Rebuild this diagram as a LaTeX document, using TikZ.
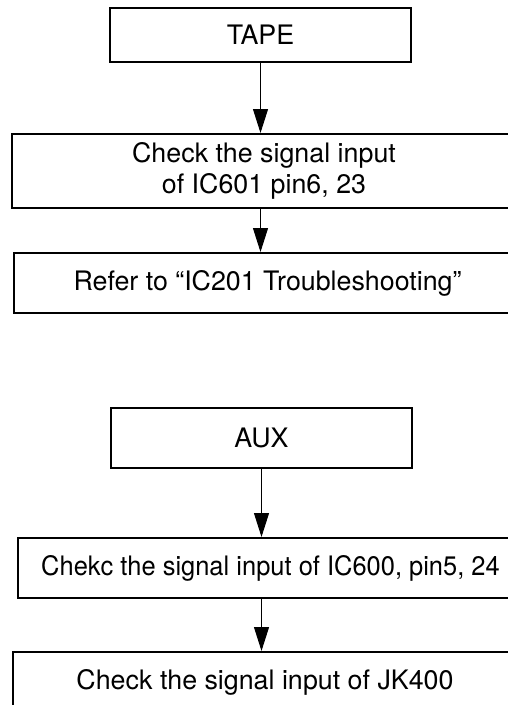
\documentclass[tikz,border=0pt]{standalone}
\usepackage{fontspec}
\setmainfont{TeX Gyre Heros}
\usetikzlibrary{arrows.meta, positioning}
\tikzset{
    flowbox/.style={rectangle, draw=black, line width=2pt, inner sep=0pt,
                    align=center, font=\fontsize{26.8}{31}\selectfont},
    arrow/.style={-{Triangle[length=24pt, width=15pt]}, line width=1pt, black},
}
\begin{document}
\begin{tikzpicture}[x=1pt, y=-1pt]
    % Page frame
    \clip (0,0) rectangle (508,705);

    % TAPE chart
    \node[flowbox, minimum width=301pt, minimum height=54pt] (tape) at (260.5,35) {TAPE};
    \node[flowbox, minimum width=504pt, minimum height=74pt] (tapecheck) at (264,171) {Check the signal input\\of IC601 pin6, 23};
    \node[flowbox, minimum width=507pt, minimum height=60pt] (taperefer) at (267.5,283) {Refer to “IC201 Troubleshooting”};

    \draw[arrow] (tape.south) -- (tape.south |- tapecheck.north);
    \draw[arrow] (tape.south |- tapecheck.south) -- (tape.south |- taperefer.north);

    % AUX chart
    \node[flowbox, minimum width=301pt, minimum height=60pt] (aux) at (261.5,438) {AUX};
    \node[flowbox, minimum width=505pt, minimum height=60pt] (auxcheck) at (270.5,568) {\scalebox{0.95}[1]{Chekc the signal input of IC600, pin5, 24}};
    \node[flowbox, minimum width=504pt, minimum height=60pt] (auxjack) at (265,682) {Check the signal input of JK400};

    \draw[arrow] (aux.south) -- (aux.south |- auxcheck.north);
    \draw[arrow] (aux.south |- auxcheck.south) -- (aux.south |- auxjack.north);
\end{tikzpicture}
\end{document}
